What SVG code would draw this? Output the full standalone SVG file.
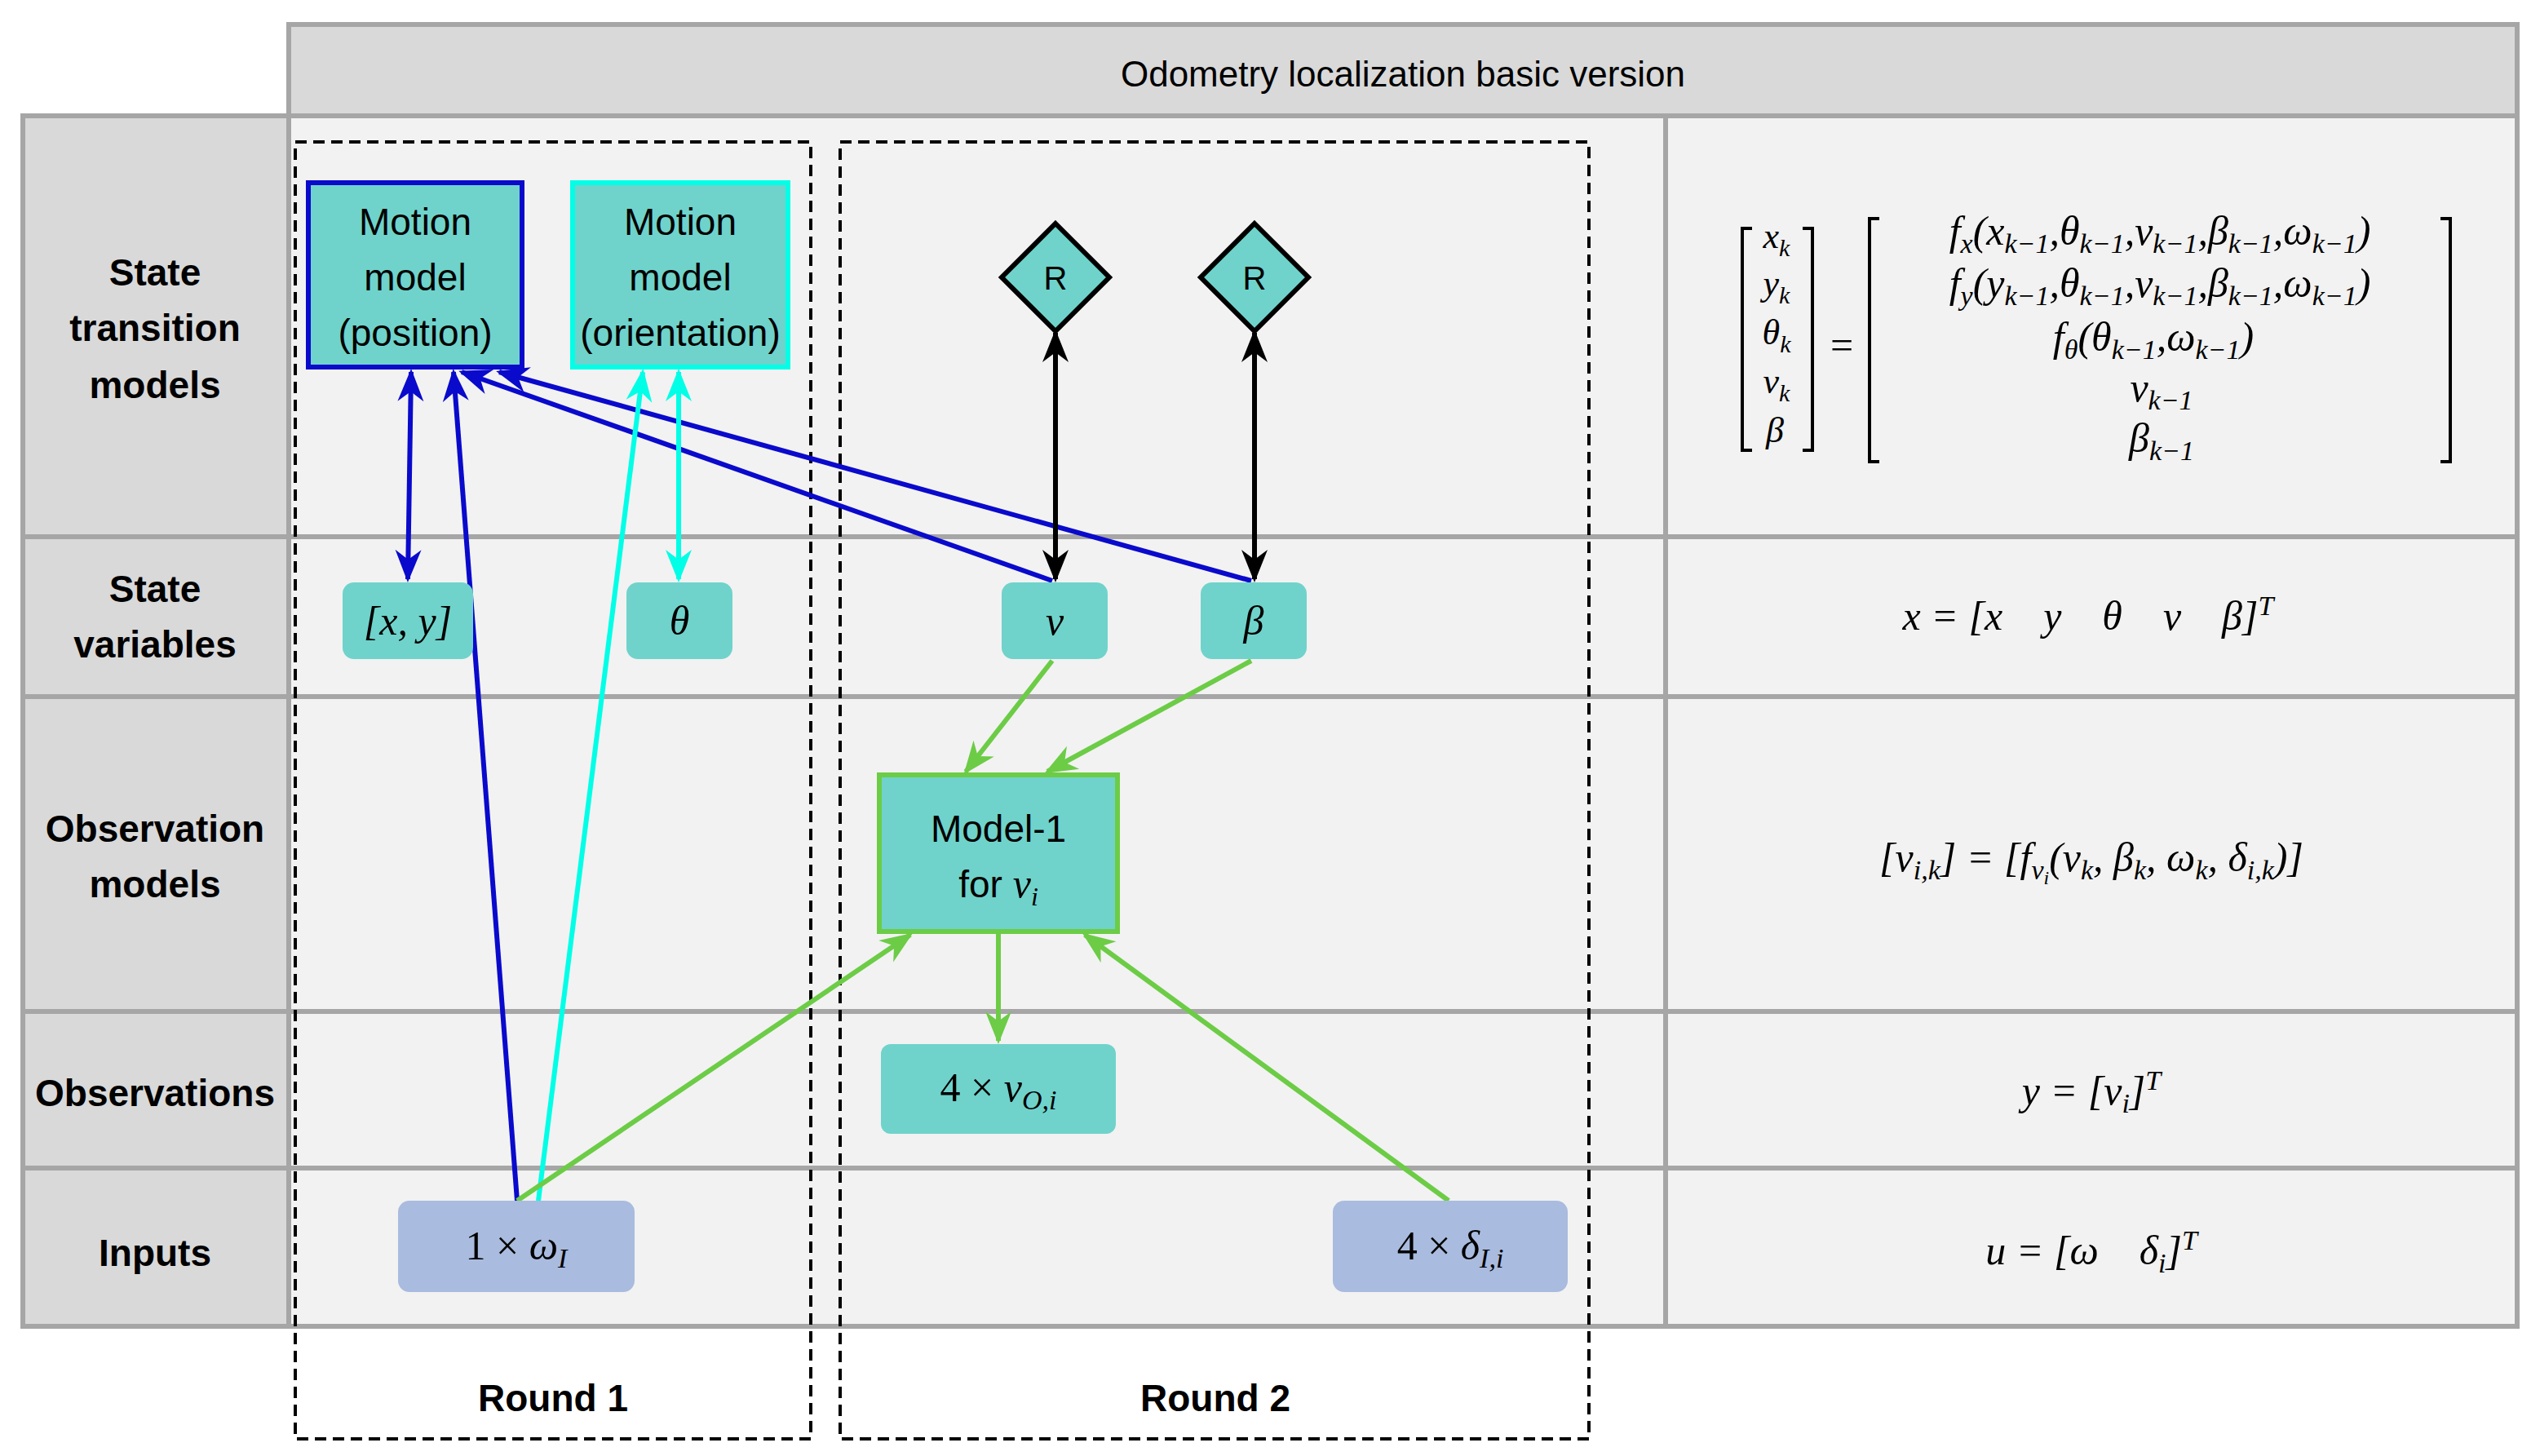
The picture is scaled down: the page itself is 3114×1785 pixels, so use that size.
<svg xmlns="http://www.w3.org/2000/svg" width="3114" height="1785" viewBox="0 0 3114 1785">
<style>
.hd{fill:#d9d9d9;stroke:#a6a6a6;stroke-width:6}
.cl{fill:#f2f2f2;stroke:#a6a6a6;stroke-width:6}
.lb{font-family:"Liberation Sans",Arial,sans-serif;font-weight:bold;font-size:46px;text-anchor:middle;fill:#000}
.nt{font-family:"Liberation Sans",Arial,sans-serif;font-size:46px;text-anchor:middle;fill:#000}
.m{font-family:"Liberation Serif","DejaVu Serif",serif;font-style:italic;font-size:50px;text-anchor:middle;fill:#000}
.tl{fill:#6fd3cb}
.inp{fill:#a9bbde}
.br{fill:none;stroke:#000;stroke-width:4}
.dash{fill:none;stroke:#000;stroke-width:4;stroke-dasharray:14 8}
</style>
<defs>
<marker id="ab" viewBox="0 0 10 10" refX="9" refY="5" markerWidth="40" markerHeight="40" orient="auto-start-reverse" markerUnits="userSpaceOnUse"><path d="M0,1 L10,5 L0,9 L3,5 z" fill="#0a0acc"/></marker>
<marker id="ac" viewBox="0 0 10 10" refX="9" refY="5" markerWidth="40" markerHeight="40" orient="auto-start-reverse" markerUnits="userSpaceOnUse"><path d="M0,1 L10,5 L0,9 L3,5 z" fill="#00ffe6"/></marker>
<marker id="ak" viewBox="0 0 10 10" refX="9" refY="5" markerWidth="40" markerHeight="40" orient="auto-start-reverse" markerUnits="userSpaceOnUse"><path d="M0,1 L10,5 L0,9 L3,5 z" fill="#000"/></marker>
<marker id="ag" viewBox="0 0 10 10" refX="9" refY="5" markerWidth="40" markerHeight="40" orient="auto-start-reverse" markerUnits="userSpaceOnUse"><path d="M0,1 L10,5 L0,9 L3,5 z" fill="#6ccc46"/></marker>
</defs>
<rect width="3114" height="1785" fill="#fff"/>
<g id="table">
<rect class="hd" x="354" y="30" width="2732" height="112"/>
<text class="nt" x="1720" y="106" style="font-size:44px">Odometry localization basic version</text>
<rect class="hd" x="28" y="142" width="326" height="516"/>
<rect class="hd" x="28" y="658" width="326" height="196"/>
<rect class="hd" x="28" y="854" width="326" height="386"/>
<rect class="hd" x="28" y="1240" width="326" height="192"/>
<rect class="hd" x="28" y="1432" width="326" height="194"/>
<rect class="cl" x="354" y="142" width="1688" height="516"/>
<rect class="cl" x="354" y="658" width="1688" height="196"/>
<rect class="cl" x="354" y="854" width="1688" height="386"/>
<rect class="cl" x="354" y="1240" width="1688" height="192"/>
<rect class="cl" x="354" y="1432" width="1688" height="194"/>
<rect class="cl" x="2042" y="142" width="1044" height="516"/>
<rect class="cl" x="2042" y="658" width="1044" height="196"/>
<rect class="cl" x="2042" y="854" width="1044" height="386"/>
<rect class="cl" x="2042" y="1240" width="1044" height="192"/>
<rect class="cl" x="2042" y="1432" width="1044" height="194"/>
<text class="lb" x="190" y="350">State</text>
<text class="lb" x="190" y="418">transition</text>
<text class="lb" x="190" y="488">models</text>
<text class="lb" x="190" y="738">State</text>
<text class="lb" x="190" y="806">variables</text>
<text class="lb" x="190" y="1032">Observation</text>
<text class="lb" x="190" y="1100">models</text>
<text class="lb" x="190" y="1356">Observations</text>
<text class="lb" x="190" y="1552">Inputs</text>
</g>
<g id="rounds">
<rect class="dash" x="362" y="174" width="632" height="1590"/>
<rect class="dash" x="1030" y="174" width="918" height="1590"/>
<text class="lb" x="678" y="1730">Round 1</text>
<text class="lb" x="1490" y="1730">Round 2</text>
</g>
<g id="equations">
<path class="br" d="M2148,280 h-12 v272 h12 M2210,280 h12 v272 h-12"/>
<text class="m" x="2178" y="304" style="font-size:44px">x<tspan dy="10" font-size="30">k</tspan></text>
<text class="m" x="2178" y="362" style="font-size:44px">y<tspan dy="10" font-size="30">k</tspan></text>
<text class="m" x="2178" y="422" style="font-size:44px">θ<tspan dy="10" font-size="30">k</tspan></text>
<text class="m" x="2178" y="482" style="font-size:44px">v<tspan dy="10" font-size="30">k</tspan></text>
<text class="m" x="2176" y="542" style="font-size:44px">β</text>
<text class="m" x="2258" y="440" style="font-style:normal">=</text>
<path class="br" d="M2304,268 h-12 v298 h12 M2992,268 h12 v298 h-12"/>
<text class="m" x="2648" y="300">f<tspan dy="10" font-size="34">x</tspan><tspan dy="-10">(x</tspan><tspan dy="10" font-size="34">k−1</tspan><tspan dy="-10">,θ</tspan><tspan dy="10" font-size="34">k−1</tspan><tspan dy="-10">,v</tspan><tspan dy="10" font-size="34">k−1</tspan><tspan dy="-10">,β</tspan><tspan dy="10" font-size="34">k−1</tspan><tspan dy="-10">,ω</tspan><tspan dy="10" font-size="34">k−1</tspan><tspan dy="-10">)</tspan></text>
<text class="m" x="2648" y="364">f<tspan dy="10" font-size="34">y</tspan><tspan dy="-10">(y</tspan><tspan dy="10" font-size="34">k−1</tspan><tspan dy="-10">,θ</tspan><tspan dy="10" font-size="34">k−1</tspan><tspan dy="-10">,v</tspan><tspan dy="10" font-size="34">k−1</tspan><tspan dy="-10">,β</tspan><tspan dy="10" font-size="34">k−1</tspan><tspan dy="-10">,ω</tspan><tspan dy="10" font-size="34">k−1</tspan><tspan dy="-10">)</tspan></text>
<text class="m" x="2640" y="430">f<tspan dy="10" font-size="34">θ</tspan><tspan dy="-10">(θ</tspan><tspan dy="10" font-size="34">k−1</tspan><tspan dy="-10">,ω</tspan><tspan dy="10" font-size="34">k−1</tspan><tspan dy="-10">)</tspan></text>
<text class="m" x="2650" y="492">v<tspan dy="10" font-size="34">k−1</tspan></text>
<text class="m" x="2650" y="554">β<tspan dy="10" font-size="34">k−1</tspan></text>
<text class="m" x="2560" y="772" xml:space="preserve">x = [x    y    θ    v    β]<tspan dy="-18" font-size="34">T</tspan></text>
<text class="m" x="2564" y="1068">[v<tspan dy="10" font-size="34">i,k</tspan><tspan dy="-10">] = [f</tspan><tspan dy="10" font-size="34">v</tspan><tspan dy="6" font-size="24">i</tspan><tspan dy="-16">(v</tspan><tspan dy="10" font-size="34">k</tspan><tspan dy="-10">, β</tspan><tspan dy="10" font-size="34">k</tspan><tspan dy="-10">, ω</tspan><tspan dy="10" font-size="34">k</tspan><tspan dy="-10">, δ</tspan><tspan dy="10" font-size="34">i,k</tspan><tspan dy="-10">)]</tspan></text>
<text class="m" x="2564" y="1354">y = [v<tspan dy="10" font-size="34">i</tspan><tspan dy="-10">]</tspan><tspan dy="-18" font-size="34">T</tspan></text>
<text class="m" x="2564" y="1550" xml:space="preserve">u = [ω    δ<tspan dy="10" font-size="34">i</tspan><tspan dy="-10">]</tspan><tspan dy="-18" font-size="34">T</tspan></text>
</g>
<g id="connectors" fill="none" stroke-width="6">
<line x1="504" y1="456" x2="500" y2="710" stroke="#0a0acc" marker-start="url(#ab)" marker-end="url(#ab)"/>
<line x1="634" y1="1472" x2="556" y2="456" stroke="#0a0acc" marker-end="url(#ab)"/>
<line x1="1290" y1="712" x2="566" y2="456" stroke="#0a0acc" marker-end="url(#ab)"/>
<line x1="1534" y1="712" x2="612" y2="456" stroke="#0a0acc" marker-end="url(#ab)"/>
<line x1="660" y1="1472" x2="788" y2="456" stroke="#00ffe6" marker-end="url(#ac)"/>
<line x1="832" y1="456" x2="832" y2="710" stroke="#00ffe6" marker-start="url(#ac)" marker-end="url(#ac)"/>
<line x1="1294" y1="408" x2="1294" y2="710" stroke="#000" marker-start="url(#ak)" marker-end="url(#ak)"/>
<line x1="1538" y1="408" x2="1538" y2="710" stroke="#000" marker-start="url(#ak)" marker-end="url(#ak)"/>
<line x1="1290" y1="810" x2="1184" y2="946" stroke="#6ccc46" marker-end="url(#ag)"/>
<line x1="1534" y1="810" x2="1284" y2="946" stroke="#6ccc46" marker-end="url(#ag)"/>
<line x1="1224" y1="1144" x2="1224" y2="1276" stroke="#6ccc46" marker-end="url(#ag)"/>
<line x1="634" y1="1472" x2="1116" y2="1146" stroke="#6ccc46" marker-end="url(#ag)"/>
<line x1="1776" y1="1472" x2="1330" y2="1146" stroke="#6ccc46" marker-end="url(#ag)"/>
</g>
<g id="mm-position">
<rect class="tl" x="378" y="224" width="262" height="226" stroke="#0a0acc" stroke-width="6"/>
<text class="nt" x="509" y="288">Motion</text><text class="nt" x="509" y="356">model</text><text class="nt" x="509" y="424">(position)</text>
</g>
<g id="mm-orientation">
<rect class="tl" x="702" y="224" width="264" height="226" stroke="#00ffe6" stroke-width="6"/>
<text class="nt" x="834" y="288">Motion</text><text class="nt" x="834" y="356">model</text><text class="nt" x="834" y="424">(orientation)</text>
</g>
<g id="R1"><path class="tl" d="M1294,274 L1360,340 L1294,406 L1228,340 Z" stroke="#000" stroke-width="6"/><text class="nt" x="1294" y="355" style="font-size:40px">R</text></g>
<g id="R2"><path class="tl" d="M1538,274 L1604,340 L1538,406 L1472,340 Z" stroke="#000" stroke-width="6"/><text class="nt" x="1538" y="355" style="font-size:40px">R</text></g>
<g id="xy"><rect class="tl" x="420" y="714" width="160" height="94" rx="14"/><text class="m" x="500" y="778">[x, y]</text></g>
<g id="theta"><rect class="tl" x="768" y="714" width="130" height="94" rx="14"/><text class="m" x="833" y="778">θ</text></g>
<g id="v"><rect class="tl" x="1228" y="714" width="130" height="94" rx="14"/><text class="m" x="1293" y="778">v</text></g>
<g id="beta"><rect class="tl" x="1472" y="714" width="130" height="94" rx="14"/><text class="m" x="1537" y="778">β</text></g>
<g id="model1">
<rect class="tl" x="1078" y="950" width="292" height="192" stroke="#6ccc46" stroke-width="6"/>
<text class="nt" x="1224" y="1032">Model-1</text>
<text class="nt" x="1224" y="1100">for <tspan font-family="Liberation Serif,serif" font-style="italic" font-size="50">v</tspan><tspan font-family="Liberation Serif,serif" font-style="italic" font-size="32" dy="10">i</tspan></text>
</g>
<g id="obs"><rect class="tl" x="1080" y="1280" width="288" height="110" rx="12"/><text class="m" x="1224" y="1350"><tspan font-style="normal">4 × </tspan>v<tspan dy="10" font-size="34">O,i</tspan></text></g>
<g id="omega"><rect class="inp" x="488" y="1472" width="290" height="112" rx="14"/><text class="m" x="633" y="1544"><tspan font-style="normal">1 × </tspan>ω<tspan dy="10" font-size="34">I</tspan></text></g>
<g id="delta"><rect class="inp" x="1634" y="1472" width="288" height="112" rx="14"/><text class="m" x="1778" y="1544"><tspan font-style="normal">4 × </tspan>δ<tspan dy="10" font-size="34">I,i</tspan></text></g>
</svg>
